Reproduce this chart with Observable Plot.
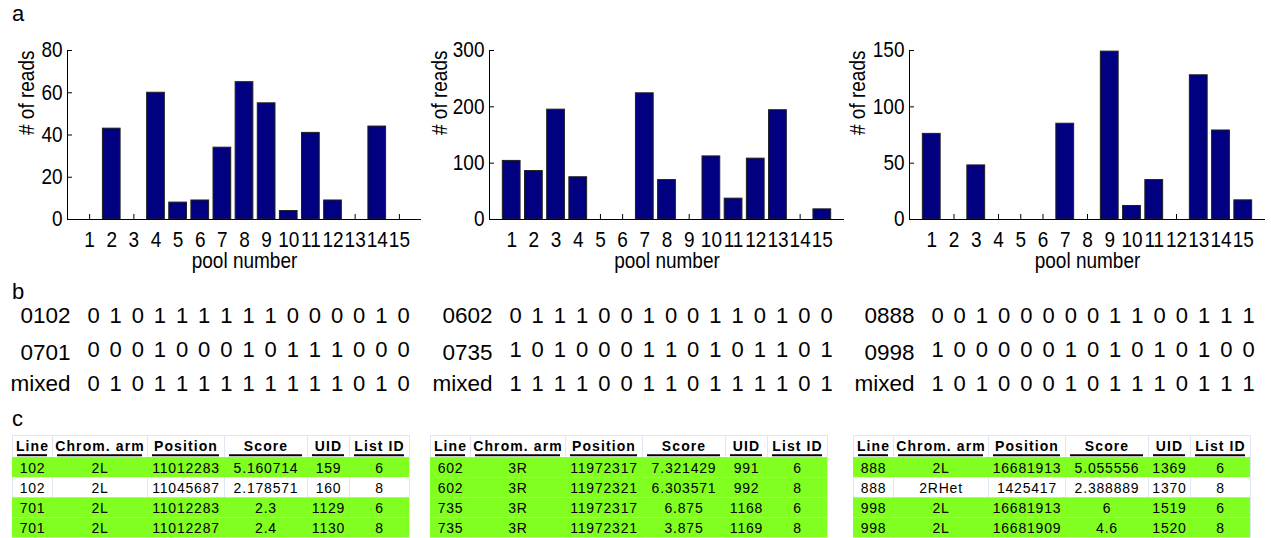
<!DOCTYPE html>
<html><head><meta charset="utf-8">
<script src="https://cdn.jsdelivr.net/npm/d3@7"></script>
<script src="https://cdn.jsdelivr.net/npm/@observablehq/plot@0.6"></script>
<style>
body{margin:0;background:#fff;}
#fig{position:relative;width:1271px;height:538px;overflow:hidden;font-family:"Liberation Sans",Arial,sans-serif;color:#000;background:#fff;}
.lab{position:absolute;font-size:22px;line-height:22px;font-family:"Liberation Sans",Arial,sans-serif;}
</style></head><body><div id="fig"></div>
<script>
// ---------- data ----------
const pools = [1,2,3,4,5,6,7,8,9,10,11,12,13,14,15];
const reads1 = [0,43,0,60,8,9,34,65,55,4,41,9,0,44,0];
const reads2 = [104,86,195,75,0,0,224,70,0,112,37,108,194,0,18];
const reads3 = [76,0,48,0,0,0,85,0,149,12,35,0,128,79,17];
const yTicks1 = [0,20,40,60,80];
const yTicks2 = [0,100,200,300];
const yTicks3 = [0,50,100,150];
const yMax1 = 80, yMax2 = 300, yMax3 = 150;
const xLabel = "pool number";
const yLabel = "# of reads";

const rowLabels1 = ["0102","0701","mixed"];
const bits1 = [
  [0,1,0,1,1,1,1,1,1,0,0,0,0,1,0],
  [0,0,0,1,0,0,0,1,0,1,1,1,0,0,0],
  [0,1,0,1,1,1,1,1,1,1,1,1,0,1,0]];
const rowLabels2 = ["0602","0735","mixed"];
const bits2 = [
  [0,1,1,1,0,0,1,0,0,1,1,0,1,0,0],
  [1,0,1,0,0,0,1,1,0,1,0,1,1,0,1],
  [1,1,1,1,0,0,1,1,0,1,1,1,1,0,1]];
const rowLabels3 = ["0888","0998","mixed"];
const bits3 = [
  [0,0,1,0,0,0,0,0,1,1,0,0,1,1,1],
  [1,0,0,0,0,0,1,0,1,0,1,0,1,0,0],
  [1,0,1,0,0,0,1,0,1,1,1,0,1,1,1]];

const tableHeader = ["Line","Chrom. arm","Position","Score","UID","List ID"];
const table1 = [
  ["102","2L","11012283","5.160714","159","6"],
  ["102","2L","11045687","2.178571","160","8"],
  ["701","2L","11012283","2.3","1129","6"],
  ["701","2L","11012287","2.4","1130","8"]];
const highlight1 = [1,0,1,1];
const table2 = [
  ["602","3R","11972317","7.321429","991","6"],
  ["602","3R","11972321","6.303571","992","8"],
  ["735","3R","11972317","6.875","1168","6"],
  ["735","3R","11972321","3.875","1169","8"]];
const highlight2 = [1,1,1,1];
const table3 = [
  ["888","2L","16681913","5.055556","1369","6"],
  ["888","2RHet","1425417","2.388889","1370","8"],
  ["998","2L","16681913","6","1519","6"],
  ["998","2L","16681909","4.6","1520","8"]];
const highlight3 = [1,0,1,1];

// ---------- layout ----------
const FONT = '"Liberation Sans", Arial, sans-serif';
const BAR = "#000080";
const GREEN = "#80ff20";
const layouts = [
  {left:0,   width:425, axis:67,  end:421,  ylab:27,  b0:93,  b1:403,  tleft:12},
  {left:420, width:430, axis:489, end:844,  ylab:440, b0:515, b1:826,  tleft:430},
  {left:840, width:431, axis:909, end:1265, ylab:858, b0:937, b1:1248, tleft:853}
];
const colW = [40, 95, 77, 83, 42, 60];

const fig = document.getElementById("fig");
function place(el, left, top) {
  el.style.position = "absolute";
  el.style.left = left + "px";
  el.style.top = top + "px";
  fig.appendChild(el);
}
const baseStyle = {fontFamily: FONT, background: "transparent", overflow: "visible", color: "#000"};

function stretchTexts(svg, sy) {
  svg.querySelectorAll("text").forEach(t => {
    const tr = t.getAttribute("transform");
    if (tr && tr.includes("translate")) t.setAttribute("transform", tr + ` scale(1,${sy})`);
  });
}

function barChart(values, yTicks, ymax, L) {
  const data = pools.map((p, i) => ({pool: p, reads: values[i]}));
  const top = 50, base = 219, H = 280;
  const x0 = L.axis - L.left, x1 = L.end - L.left;
  const svg = Plot.plot({
    width: L.width, height: H,
    marginLeft: x0, marginRight: L.width - x1, marginTop: top, marginBottom: H - base,
    x: {domain: [0, 16]},
    y: {domain: [0, ymax]},
    style: baseStyle,
    marks: [
      Plot.tickX(pools, {x: d => d, insetTop: (base - top) - 5, stroke: "#000"}),
      Plot.tickY(yTicks, {y: d => d, insetRight: (x1 - x0) - 5, stroke: "#000"}),
      Plot.rect(data.filter(d => d.reads > 0), {x1: d => d.pool - 0.4, x2: d => d.pool + 0.4, y1: 0, y2: "reads", fill: BAR, stroke: "#202020", strokeWidth: 1}),
      Plot.ruleY([0], {stroke: "#000"}),
      Plot.ruleX([0], {y1: 0, y2: ymax, stroke: "#000"}),
      Plot.axisY({ticks: yTicks, tickSize: 0, tickPadding: 5, fontSize: 19, label: null}),
      Plot.axisX({ticks: pools, tickSize: 0, tickPadding: 12, fontSize: 19, label: null}),
      Plot.text([xLabel], {frameAnchor: "bottom", dy: 48, fontSize: 19}),
      Plot.text([yLabel], {frameAnchor: "left", dx: -(L.axis - L.ylab), rotate: -90, fontSize: 19})
    ]
  });
  stretchTexts(svg, 1.12);
  return svg;
}

function bitsPlot(labels, bits, L) {
  const data = bits.flatMap((row, r) => row.map((v, i) => ({pool: pools[i], row: r, v: String(v)})));
  const top = 290;
  return Plot.plot({
    width: 425, height: 110,
    x: {domain: [1, 15], range: [L.b0 - L.left, L.b1 - L.left], axis: null},
    y: {domain: [0, 2], range: [315 - top, 383 - top], axis: null},
    style: baseStyle,
    marks: [
      Plot.text(data, {x: "pool", y: "row", text: "v", fontSize: 22}),
      ...labels.map((lab, r) => Plot.text([lab], {x: 1, y: r, text: d => d, dx: -23, dy: r === 1 ? 3 : 0, textAnchor: "end", fontSize: 22.5}))
    ]
  });
}

function tablePlot(rows, hl, L) {
  const edges = Array.from(d3.cumsum([0, ...colW]));
  const W = edges[edges.length - 1];
  const mid = j => (edges[j] + edges[j + 1]) / 2;
  const cells = rows.flatMap((row, i) => row.map((t, j) => ({i, j, t})));
  const rowData = rows.map((r, i) => ({i, hl: hl[i]}));
  const top = 430;
  const svg = Plot.plot({
    width: W + 2, height: 108,
    x: {domain: [0, W], range: [0, W], axis: null},
    y: {domain: [-1.1, 4], range: [435 - top, 537.5 - top], axis: null},
    style: baseStyle,
    marks: [
      Plot.ruleX(edges, {x: d => d, y1: -1.1, y2: 4, stroke: "#dfe7f2"}),
      Plot.ruleY([-1.1], {x1: 0, x2: W, stroke: "#dfe7f2"}),
      Plot.rect(rowData.filter(d => d.hl), {x1: 0, x2: W, y1: d => d.i, y2: d => d.i + 1, fill: GREEN}),
      Plot.ruleY(tableHeader, {x1: (d, j) => edges[j] + 5, x2: (d, j) => edges[j + 1] - 5, y: -0.12, stroke: "#000", strokeWidth: 2}),
      Plot.text(tableHeader, {x: (d, j) => mid(j), y: -0.58, text: d => d, fontSize: 14, fontWeight: "bold"}),
      Plot.text(cells, {x: d => mid(d.j), y: d => d.i + 0.5, text: "t", fontSize: 14})
    ]
  });
  svg.querySelectorAll('g[aria-label="text"]').forEach(g => {
    const bold = g.getAttribute("font-weight") === "bold";
    g.querySelectorAll("text").forEach(e => e.style.letterSpacing = bold ? "1.1px" : "0.8px");
  });
  stretchTexts(svg, 1.08);
  return svg;
}

const reads = [reads1, reads2, reads3];
const ticks = [yTicks1, yTicks2, yTicks3];
const ymaxes = [yMax1, yMax2, yMax3];
const labs = [rowLabels1, rowLabels2, rowLabels3];
const bits = [bits1, bits2, bits3];
const tables = [table1, table2, table3];
const hls = [highlight1, highlight2, highlight3];

layouts.forEach((L, k) => {
  place(barChart(reads[k], ticks[k], ymaxes[k], L), L.left, 0);
  place(bitsPlot(labs[k], bits[k], L), L.left, 290);
  place(tablePlot(tables[k], hls[k], L), L.tleft, 430);
});

[["a", 12, 3], ["b", 12, 281], ["c", 12, 408]].forEach(([s, x, y]) => {
  const d = document.createElement("div");
  d.className = "lab"; d.textContent = s;
  d.style.left = x + "px"; d.style.top = y + "px";
  fig.appendChild(d);
});
</script></body></html>
